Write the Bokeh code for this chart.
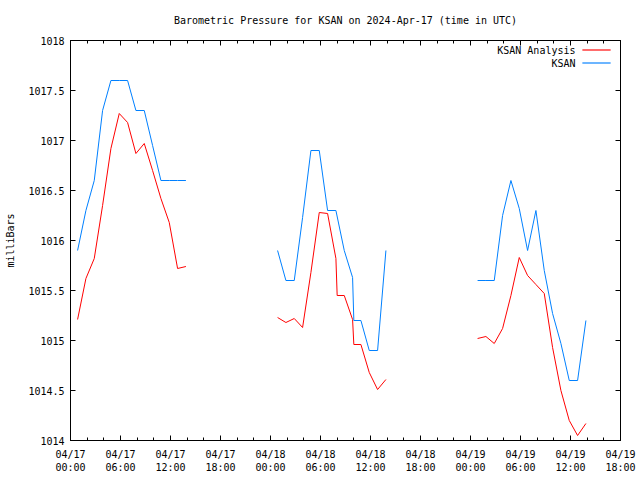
from datetime import datetime, timedelta
import pandas as pd
from bokeh.plotting import figure
from bokeh.models import (Range1d, FixedTicker, DatetimeTickFormatter, DatetimeAxis,
                          LinearAxis, NumeralTickFormatter, CustomJSTickFormatter,
                          Label, BoxAnnotation)
from bokeh.embed import file_html
from bokeh.resources import INLINE

TITLE = "Barometric Pressure for KSAN on 2024-Apr-17 (time in UTC)"
Y_LABEL = "milliBars"
SERIES = ["KSAN Analysis", "KSAN"]
COLORS = ["#ff0000", "#0080ff"]

HOURLY = ["00:51", "01:51", "02:51", "03:51", "04:51", "05:51", "06:51",
          "07:51", "08:51", "09:51", "10:51", "11:51", "12:51", "13:51"]

# --- 2024-04-17 ---
day1_times = ["2024-04-17 " + t for t in HOURLY]
ksan_day1 = [1015.9, 1016.3, 1016.6, 1017.3, 1017.6, 1017.6, 1017.6,
             1017.3, 1017.3, 1016.95, 1016.6, 1016.6, 1016.6, 1016.6]
anal_day1 = [1015.21, 1015.62, 1015.82, 1016.35, 1016.92, 1017.27, 1017.18,
             1016.87, 1016.97, 1016.7, 1016.42, 1016.18, 1015.72, 1015.74]

# --- 2024-04-18 ---
ksan_day2_times = ["2024-04-18 " + t for t in
                   ["00:51", "01:51", "02:51", "03:51", "04:51", "05:51", "06:51",
                    "07:51", "08:51", "09:51", "10:00", "10:51", "11:51", "12:51", "13:51"]]
ksan_day2 = [1015.9, 1015.6, 1015.6, 1016.23, 1016.9, 1016.9, 1016.3,
             1016.3, 1015.9, 1015.63, 1015.2, 1015.2, 1014.9, 1014.9, 1015.9]
anal_day2_times = ["2024-04-18 " + t for t in
                   ["00:51", "01:51", "02:51", "03:51", "04:51", "05:51", "06:51",
                    "07:51", "08:00", "08:51", "09:51", "10:00", "10:51", "11:51",
                    "12:51", "13:51"]]
anal_day2 = [1015.23, 1015.18, 1015.22, 1015.13, 1015.68, 1016.28, 1016.27,
             1015.82, 1015.45, 1015.45, 1015.21, 1014.96, 1014.96, 1014.68,
             1014.51, 1014.61]

# --- 2024-04-19 ---
day3_times = ["2024-04-19 " + t for t in HOURLY]
ksan_day3 = [1015.6, 1015.6, 1015.6, 1016.25, 1016.6, 1016.32, 1015.9,
             1016.3, 1015.7, 1015.27, 1014.97, 1014.6, 1014.6, 1015.2]
anal_day3 = [1015.02, 1015.04, 1014.97, 1015.12, 1015.45, 1015.83, 1015.65,
             1015.56, 1015.47, 1014.93, 1014.5, 1014.2, 1014.05, 1014.17]

Y_START, Y_END, Y_STEP = 1014.0, 1018.0, 0.5
X_START = datetime(2024, 4, 17, 0, 0)
X_END = datetime(2024, 4, 19, 18, 0)
MAJOR_HOURS, MINOR_HOURS = 6, 2

FONT = "DejaVu Sans Mono"
FS = "10px"


def ms(dt):
    return (dt - datetime(1970, 1, 1)).total_seconds() * 1000.0


n_major = int((X_END - X_START).total_seconds() // 3600 // MAJOR_HOURS)
n_minor = int((X_END - X_START).total_seconds() // 3600 // MINOR_HOURS)
major = [ms(X_START + timedelta(hours=MAJOR_HOURS * i)) for i in range(n_major + 1)]
minor = [ms(X_START + timedelta(hours=MINOR_HOURS * i)) for i in range(n_minor + 1)]
x_ticker = FixedTicker(ticks=major, minor_ticks=minor)
y_ticks = [Y_START + Y_STEP * i for i in range(int((Y_END - Y_START) / Y_STEP) + 1)]
y_ticker = FixedTicker(ticks=y_ticks, minor_ticks=[])

FRAME_H = 400
p = figure(width=640, height=480, output_backend="svg", toolbar_location=None,
           x_axis_type="datetime",
           x_range=Range1d(X_START, X_END), y_range=Range1d(Y_START, Y_END),
           min_border_left=70, min_border_top=40, min_border_right=20, min_border_bottom=40)
p.background_fill_color = "white"
p.border_fill_color = "white"
p.outline_line_color = "black"
p.grid.visible = False

fmt = "%m/%d\n%H:%M"
formatter = DatetimeTickFormatter(microseconds=fmt, milliseconds=fmt, seconds=fmt,
                                  minsec=fmt, minutes=fmt, hourmin=fmt, hours=fmt,
                                  days=fmt, months=fmt, years=fmt)
blank = CustomJSTickFormatter(code="return '';")


def style_axis(ax, ticker):
    ax.ticker = ticker
    ax.axis_line_color = "black"
    ax.major_tick_line_color = "black"
    ax.minor_tick_line_color = "black"
    ax.major_tick_in = 5
    ax.major_tick_out = 0
    ax.minor_tick_in = 3
    ax.minor_tick_out = 0
    ax.major_label_text_font = FONT
    ax.major_label_text_font_size = FS
    ax.major_label_text_color = "black"
    ax.major_label_standoff = 6
    ax.axis_label_text_font = FONT
    ax.axis_label_text_font_size = FS
    ax.axis_label_text_font_style = "normal"
    ax.axis_label_text_color = "black"


xa = p.xaxis[0]
style_axis(xa, x_ticker)
xa.formatter = formatter
xa.major_label_standoff = 8

ya = p.yaxis[0]
style_axis(ya, y_ticker)
ya.formatter = NumeralTickFormatter(format="0[.]0")
ya.axis_label = Y_LABEL
ya.axis_label_standoff = 9

# mirrored top axis carries the chart title (gnuplot places it centred above the frame)
top = DatetimeAxis()
style_axis(top, x_ticker)
top.formatter = blank
top.major_label_standoff = 0
top.axis_label = TITLE
top.axis_label_standoff = 15
p.add_layout(top, "above")
right = LinearAxis()
style_axis(right, y_ticker)
right.formatter = blank
right.major_label_standoff = 0
p.add_layout(right, "right")

segments = [
    (day1_times, anal_day1, day1_times, ksan_day1),
    (anal_day2_times, anal_day2, ksan_day2_times, ksan_day2),
    (day3_times, anal_day3, day3_times, ksan_day3),
]
for at, av, kt, kv in segments:
    p.line(pd.to_datetime(at), av, line_color=COLORS[0], line_width=1)
    p.line(pd.to_datetime(kt), kv, line_color=COLORS[1], line_width=1)

# gnuplot-style key: right-aligned text, sample line to its right
for i, (name, col) in enumerate(zip(SERIES, COLORS)):
    yc = FRAME_H - 9.5 - 13 * i
    p.add_layout(Label(x=505, y=yc, x_units="screen", y_units="screen", text=name,
                       text_align="right", text_baseline="middle", text_font=FONT,
                       text_font_size=FS, text_color="black"))
    p.add_layout(BoxAnnotation(left=512, right=540, top=yc + 0.5, bottom=yc - 0.5,
                               left_units="screen", right_units="screen",
                               top_units="screen", bottom_units="screen",
                               fill_color=col, fill_alpha=1, line_color=col, line_width=0.5))

open("out.html", "w").write(file_html(p, INLINE))
